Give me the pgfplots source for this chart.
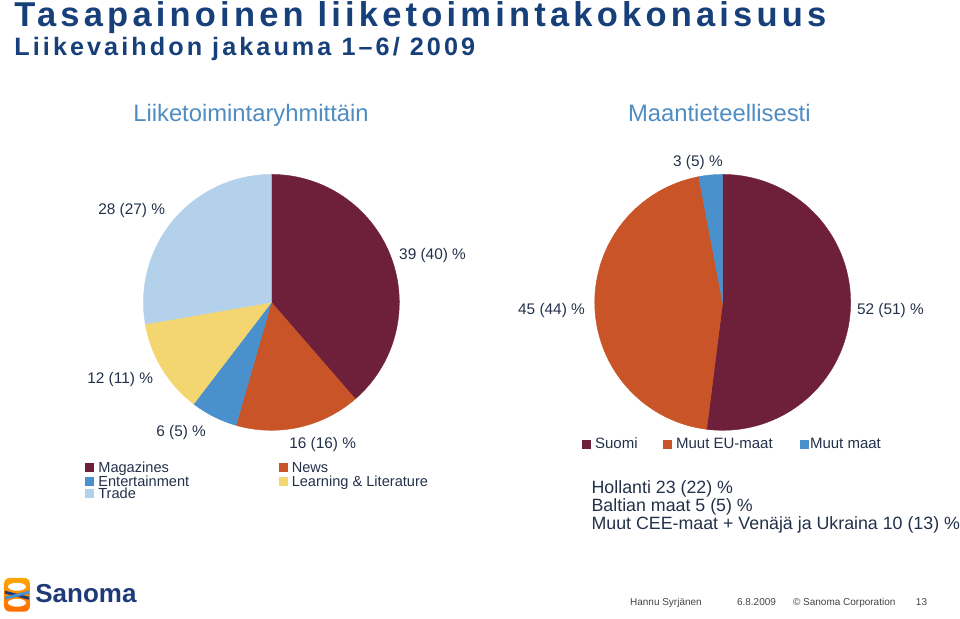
\documentclass[border=0pt]{standalone}
\usepackage{pgfplots}
\pgfplotsset{compat=1.18}
\usepackage{pgfplotstable}
\usepackage{fontspec}
\setmainfont{Liberation Sans}
\newfontfamily\titlefont[LetterSpace=12.2]{Liberation Sans}
\newfontfamily\subfont[LetterSpace=12.2]{Liberation Sans}
\definecolor{cMag}{HTML}{6E203A}
\definecolor{cNews}{HTML}{C85428}
\definecolor{cEnt}{HTML}{4A90CD}
\definecolor{cLearn}{HTML}{F4D670}
\definecolor{cTrade}{HTML}{B4D1EC}
\definecolor{cTitle}{HTML}{17407A}
\definecolor{cHead}{HTML}{4E8CC2}
\definecolor{cText}{HTML}{23304A}
\definecolor{cFoot}{HTML}{444444}
\definecolor{cLogo}{HTML}{1E3A78}

\pgfplotstableread{
segment value
Magazines 39
News 16
Entertainment 6
Learning 12
Trade 28
}\pieA
\pgfplotstableread{
segment value
Suomi 52
MuutEU 45
Muutmaat 3
}\pieB
\newcommand\getval[3]{\pgfplotstablegetelem{#2}{value}\of#1\global\let#3\pgfplotsretval}
\getval{\pieA}{0}{\va}
\getval{\pieA}{1}{\vb}
\getval{\pieA}{2}{\vc}
\getval{\pieA}{3}{\vd}
\getval{\pieA}{4}{\ve}
\getval{\pieB}{0}{\wa}
\getval{\pieB}{1}{\wb}
\getval{\pieB}{2}{\wc}
\pgfmathsetmacro\kA{360/(\va+\vb+\vc+\vd+\ve)}
\pgfmathsetmacro\Aa{90-\va*\kA}
\pgfmathsetmacro\Ab{\Aa-\vb*\kA}
\pgfmathsetmacro\Ac{\Ab-\vc*\kA}
\pgfmathsetmacro\Ad{\Ac-\vd*\kA}
\pgfmathsetmacro\Ae{\Ad-\ve*\kA}
\pgfmathsetmacro\kB{360/(\wa+\wb+\wc)}
\pgfmathsetmacro\Ba{90-\wa*\kB}
\pgfmathsetmacro\Bb{\Ba-\wb*\kB}
\pgfmathsetmacro\Bc{\Bb-\wc*\kB}

\newcommand\fs[1]{\fontsize{#1bp}{#1bp}\selectfont}

\begin{document}
\begin{tikzpicture}
\begin{axis}[hide axis, scale only axis, width=480bp, height=309.5bp,
  xmin=0, xmax=960, ymin=0, ymax=619, y dir=reverse, clip=false]
\path (axis cs:0,0) rectangle (axis cs:960,619);
% pie 1
\addplot[fill=cMag, draw=cMag, line width=0.2pt, domain=\Aa:90, samples=80, variable=\t] ({271.5+128*cos(\t)},{302.5-128*sin(\t)}) -- (axis cs:271.5,302.5) -- cycle;
\addplot[fill=cNews, draw=cNews, line width=0.2pt, domain=\Ab:\Aa, samples=40, variable=\t] ({271.5+128*cos(\t)},{302.5-128*sin(\t)}) -- (axis cs:271.5,302.5) -- cycle;
\addplot[fill=cEnt, draw=cEnt, line width=0.2pt, domain=\Ac:\Ab, samples=20, variable=\t] ({271.5+128*cos(\t)},{302.5-128*sin(\t)}) -- (axis cs:271.5,302.5) -- cycle;
\addplot[fill=cLearn, draw=cLearn, line width=0.2pt, domain=\Ad:\Ac, samples=30, variable=\t] ({271.5+128*cos(\t)},{302.5-128*sin(\t)}) -- (axis cs:271.5,302.5) -- cycle;
\addplot[fill=cTrade, draw=cTrade, line width=0.2pt, domain=\Ae:\Ad, samples=60, variable=\t] ({271.5+128*cos(\t)},{302.5-128*sin(\t)}) -- (axis cs:271.5,302.5) -- cycle;
% pie 2
\addplot[fill=cMag, draw=cMag, line width=0.2pt, domain=\Ba:90, samples=100, variable=\t] ({723+128*cos(\t)},{302.5-128*sin(\t)}) -- (axis cs:723,302.5) -- cycle;
\addplot[fill=cNews, draw=cNews, line width=0.2pt, domain=\Bb:\Ba, samples=100, variable=\t] ({723+128*cos(\t)},{302.5-128*sin(\t)}) -- (axis cs:723,302.5) -- cycle;
\addplot[fill=cEnt, draw=cEnt, line width=0.2pt, domain=\Bc:\Bb, samples=10, variable=\t] ({723+128*cos(\t)},{302.5-128*sin(\t)}) -- (axis cs:723,302.5) -- cycle;

% titles
\node[anchor=base west, inner sep=0, text=cTitle] at (axis cs:14,26.5) {\titlefont\bfseries\fs{17.25}Tasapainoinen liiketoimintakokonaisuus};
\node[anchor=base west, inner sep=0, text=cTitle] at (axis cs:14,56) {\subfont\bfseries\fs{12.6}Liikevaihdon jakauma 1–6/ 2009};
\node[anchor=base west, inner sep=0, text=cHead] at (axis cs:133,122) {\fs{11.9}Liiketoimintaryhmittäin};
\node[anchor=base west, inner sep=0, text=cHead] at (axis cs:628,122) {\fs{11.9}Maantieteellisesti};

% slice labels
\begin{scope}[every node/.style={anchor=base west, inner sep=0, text=cText, font=\fs{7.7}}]
\node at (axis cs:399,260) {39 (40) \%};
\node at (axis cs:98,215) {28 (27) \%};
\node at (axis cs:87,384) {12 (11) \%};
\node at (axis cs:156,437) {6 (5) \%};
\node at (axis cs:289,449) {16 (16) \%};
\node at (axis cs:673,166.5) {3 (5) \%};
\node at (axis cs:518,315) {45 (44) \%};
\node at (axis cs:857,315) {52 (51) \%};
\end{scope}

% legends
\begin{scope}[every node/.style={anchor=base west, inner sep=0, text=cText, font=\fs{7.3}}]
\node at (axis cs:98,472.5) {Magazines};
\node at (axis cs:98,486.5) {Entertainment};
\node at (axis cs:98,498.5) {Trade};
\node at (axis cs:291.5,472.5) {News};
\node at (axis cs:291.5,486.5) {Learning \& Literature};
\end{scope}
\begin{scope}[every node/.style={anchor=base west, inner sep=0, text=cText, font=\fs{7.5}}]
\node at (axis cs:595,449) {Suomi};
\node at (axis cs:676,449) {Muut EU-maat};
\node at (axis cs:810,449) {Muut maat};
\end{scope}
\begin{scope}[every node/.style={inner sep=0, minimum size=4.5bp}]
\node[fill=cMag] at (axis cs:89.5,468) {};
\node[fill=cEnt] at (axis cs:89.5,481.5) {};
\node[fill=cTrade] at (axis cs:89.5,494) {};
\node[fill=cNews] at (axis cs:283.5,468) {};
\node[fill=cLearn] at (axis cs:283.5,481.5) {};
\node[fill=cMag] at (axis cs:586.5,444.5) {};
\node[fill=cNews] at (axis cs:667.5,444.5) {};
\node[fill=cEnt] at (axis cs:804.5,444.5) {};
\end{scope}

\begin{scope}[every node/.style={anchor=base west, inner sep=0, text=cText, font=\fs{8.9}}]
\node at (axis cs:591.5,494) {Hollanti 23 (22) \%};
\node at (axis cs:591.5,512) {Baltian maat 5 (5) \%};
\node at (axis cs:591.5,530) {Muut CEE-maat + Venäjä ja Ukraina 10 (13) \%};
\end{scope}

% footer
\begin{scope}[every node/.style={anchor=base west, inner sep=0, text=cFoot, font=\fs{5}}]
\node at (axis cs:630,605.5) {Hannu Syrjänen};
\node at (axis cs:737,605.5) {6.8.2009};
\node at (axis cs:793,605.5) {© Sanoma Corporation};
\node at (axis cs:916,605.5) {13};
\end{scope}

% logo
\shade[top color=orange!70!yellow, bottom color=orange!85!red, rounded corners=3bp] (axis cs:4,578) rectangle (axis cs:30,612);
\fill[white] (axis cs:17,587) ellipse [x radius=4.5bp, y radius=2bp];
\fill[white] (axis cs:17,603) ellipse [x radius=4.5bp, y radius=2bp];
\fill[cLogo] (axis cs:5,591) -- (axis cs:29,597) -- (axis cs:29,600) -- (axis cs:5,594) -- cycle;
\fill[cEnt] (axis cs:5,597) -- (axis cs:29,591) -- (axis cs:29,594) -- (axis cs:5,600) -- cycle;
\node[anchor=base west, inner sep=0, text=cLogo] at (axis cs:35,603) {\bfseries\fs{13}Sanoma};
\end{axis}
\end{tikzpicture}
\end{document}
